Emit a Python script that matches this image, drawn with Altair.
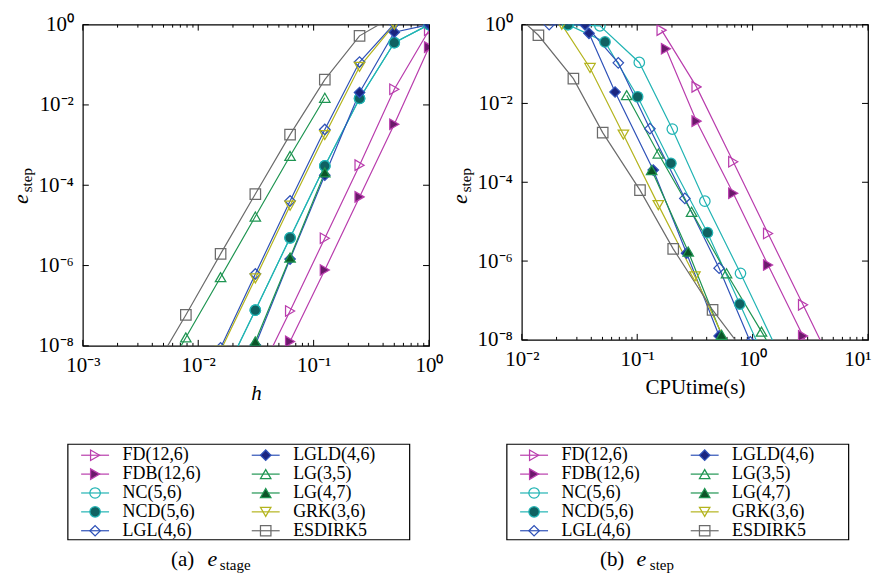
import altair as alt
import pandas as pd

SERIES = ["FD(12,6)", "FDB(12,6)", "NC(5,6)", "NCD(5,6)", "LGL(4,6)",
          "LGLD(4,6)", "LG(3,5)", "LG(4,7)", "GRK(3,6)", "ESDIRK5"]
LINE_COLORS = ["#B93DAD", "#B93DAD", "#22B4B4", "#22B4B4", "#2F52B8",
               "#2F52B8", "#1F9552", "#1F9552", "#B4B41E", "#6B6B6B"]
FILL_COLORS = ["transparent", "#6B1A6B", "transparent", "#0F6262", "transparent",
               "#1A2580", "transparent", "#0C5428", "transparent", "transparent"]
SHAPES = ["triangle-right", "triangle-right", "circle", "circle", "diamond",
          "diamond", "triangle-up", "triangle-up", "triangle-down", "square"]

H = [1, 0.5, 0.25, 0.125, 0.0625, 0.03125, 0.015625, 0.0078125, 0.00390625]

# ---- panel (a): e_stage against h ----
A_X = {
    "FD(12,6)": H[0:6], "FDB(12,6)": H[0:6], "NC(5,6)": H[0:7], "NCD(5,6)": H[0:7],
    "LGL(4,6)": H[0:7], "LGLD(4,6)": H[0:6], "LG(3,5)": H[3:9], "LG(4,7)": H[3:6],
    "GRK(3,6)": H[1:7], "ESDIRK5": H[1:9],
}
A_Y = {
    "FD(12,6)": [0.724, 0.0245, 3.16e-4, 4.79e-6, 7.41e-8, 1.26e-9],
    "FDB(12,6)": [0.275, 3.31e-3, 5.13e-5, 7.76e-7, 1.29e-8, 2.0e-10],
    "NC(5,6)": [1.0, 0.355, 0.0145, 3.02e-4, 4.90e-6, 7.76e-8, 1.26e-9],
    "NCD(5,6)": [1.0, 0.355, 0.0145, 3.02e-4, 4.90e-6, 7.76e-8, 1.26e-9],
    "LGL(4,6)": [1.05, 1.05, 0.117, 2.45e-3, 4.07e-5, 6.17e-7, 8.9e-9],
    "LGLD(4,6)": [1.0, 0.646, 0.0204, 1.78e-4, 1.45e-6, 1.05e-8],
    "LG(3,5)": [0.0151, 5.37e-4, 1.66e-5, 5.13e-7, 1.62e-8, 5.0e-10],
    "LG(4,7)": [2.09e-4, 1.58e-6, 1.29e-8],
    "GRK(3,6)": [1.0, 0.0891, 1.78e-3, 3.09e-5, 4.79e-7, 7.6e-9],
    "ESDIRK5": [1.66, 0.525, 0.0427, 1.82e-3, 6.03e-5, 1.95e-6, 5.89e-8, 2.0e-9],
}

# ---- panel (b): e_step against CPU time (s) ----
B_X = {
    "FD(12,6)": [0.1626, 0.3266, 0.679, 1.361, 2.735, 5.43],
    "FDB(12,6)": [0.1774, 0.3266, 0.679, 1.361, 2.735, 5.50],
    "NC(5,6)": [0.0251, 0.0475, 0.1042, 0.2014, 0.3855, 0.785, 1.66],
    "NCD(5,6)": [0.0251, 0.0526, 0.1009, 0.1959, 0.4064, 0.7745, 1.479],
    "LGL(4,6)": [0.01726, 0.03532, 0.06855, 0.1288, 0.2588, 0.5129, 0.955],
    "LGLD(4,6)": [0.03532, 0.0382, 0.0643, 0.1377, 0.2679, 0.5129],
    "LG(3,5)": [0.0811, 0.1524, 0.2958, 0.5943, 1.194, 2.40],
    "LG(4,7)": [0.1334, 0.2767, 0.5383],
    "GRK(3,6)": [0.0222, 0.0390, 0.0759, 0.1524, 0.3162, 0.603],
    "ESDIRK5": [0.00912, 0.01393, 0.02799, 0.05023, 0.1057, 0.2051, 0.4498, 1.072],
}
B_Y = {
    "FD(12,6)": [0.724, 0.0263, 3.31e-4, 5.01e-6, 7.76e-8, 1.26e-9],
    "FDB(12,6)": [0.245, 3.55e-3, 5.25e-5, 7.94e-7, 1.26e-8, 2.0e-10],
    "NC(5,6)": [1.0, 0.933, 0.1096, 2.24e-3, 3.31e-5, 4.90e-7, 5.01e-9],
    "NCD(5,6)": [1.0, 0.363, 0.01479, 3.02e-4, 5.25e-6, 8.13e-8, 1.26e-9],
    "LGL(4,6)": [1.0, 1.0, 0.1072, 2.29e-3, 3.89e-5, 6.61e-7, 8.91e-9],
    "LGLD(4,6)": [1.0, 0.603, 0.0195, 2.04e-4, 1.585e-6, 1.26e-8],
    "LG(3,5)": [0.0162, 5.37e-4, 1.78e-5, 4.90e-7, 1.62e-8, 5.0e-10],
    "LG(4,7)": [2.04e-4, 1.74e-6, 1.35e-8],
    "GRK(3,6)": [1.0, 0.0794, 1.62e-3, 2.63e-5, 4.07e-7, 7.08e-9],
    "ESDIRK5": [1.66, 0.537, 0.0427, 1.82e-3, 6.31e-5, 2.04e-6, 5.75e-8, 2.0e-9],
}

LEG_COL = [0, 0, 0, 0, 0, 1, 1, 1, 1, 1]
LEG_ROW = [0, 1, 2, 3, 4, 0, 1, 2, 3, 4]

FONT = "Liberation Serif"
EXPO = "round(log(datum.value)/LN10)"
SUP = "['⁻⁸','⁻⁷','⁻⁶','⁻⁵','⁻⁴','⁻³','⁻²','⁻¹','⁰','¹','²']"
LABEL_EXPR = f"'10' + {SUP}[{EXPO}+8]"

Y_TICKS = [1e-8, 1e-6, 1e-4, 1e-2, 1]
MINOR_MULT = [2, 3, 4, 5, 6, 7, 8, 9]


def frame(d):
    rows = []
    for i, s in enumerate(SERIES):
        for x, y in zip(d[0][s], d[1][s]):
            rows.append({"series": s, "idx": i, "x": x, "y": y})
    return pd.DataFrame(rows)


color_s = alt.Scale(domain=SERIES, range=LINE_COLORS)
fill_s = alt.Scale(domain=SERIES, range=FILL_COLORS)
shape_s = alt.Scale(domain=SERIES, range=SHAPES)

CAP_Y = 542.8
SUB_Y = 546.5
W = 347
MSIZE = 110


def panel(df, xlo, xhi, height, xtitle, xitalic, cap_lbl, cap_sub, cap_x,
          anchor_x, last_flush, cond_ok):
    xs = alt.Scale(type="log", domain=[10.0 ** xlo, 10.0 ** xhi], nice=False)
    ys = alt.Scale(type="log", domain=[1e-8, 1], nice=False)
    majors = [10.0 ** k for k in range(xlo, xhi + 1)]
    minors = [m * 10.0 ** k for k in range(xlo, xhi) for m in MINOR_MULT]

    extra = {}
    if last_flush and cond_ok:
        extra = dict(
            labelAlign={"condition": {"test": f"datum.value > {10.0 ** xhi * 0.5}",
                                      "value": "right"}, "value": "center"},
            labelOffset={"condition": {"test": f"datum.value > {10.0 ** xhi * 0.5}",
                                       "value": 3}, "value": 0},
        )
    common = dict(grid=False, domain=False, ticks=False,
                  labelFont=FONT, labelFontSize=21, labelColor="black",
                  labelFlush=False, labelOverlap=False)
    ax_b = alt.Axis(orient="bottom", values=majors, labelExpr=LABEL_EXPR,
                    labelPadding=9, title=xtitle, titleFont=FONT, titleFontSize=21,
                    titleFontWeight="normal", titleColor="black",
                    titleFontStyle="italic" if xitalic else "normal", titlePadding=7,
                    **common, **extra)
    ax_l = alt.Axis(orient="left", values=Y_TICKS, labelExpr=LABEL_EXPR,
                    labelPadding=9.5, title=None, **common)
    base = alt.Chart(df)
    axes = base.mark_point(opacity=0, clip=True).encode(
        x=alt.X("x:Q", scale=xs, axis=ax_b),
        y=alt.Y("y:Q", scale=ys, axis=ax_l),
    )
    xn = alt.X("x:Q", scale=xs, axis=None)
    yn = alt.Y("y:Q", scale=ys, axis=None)

    # inward tick marks on all four sides (MATLAB style box)
    tk = []
    for vals, ln in ((majors, 6), (minors, 3)):
        tdf = alt.Chart(pd.DataFrame({"v": vals}))
        tx = alt.X("v:Q", scale=xs, axis=None)
        tk.append(tdf.mark_rule(color="black", strokeWidth=1).encode(
            x=tx, y=alt.value(height), y2=alt.value(height - ln)))
        tk.append(tdf.mark_rule(color="black", strokeWidth=1).encode(
            x=tx, y=alt.value(0), y2=alt.value(ln)))
    ydf = alt.Chart(pd.DataFrame({"v": Y_TICKS}))
    ty = alt.Y("v:Q", scale=ys, axis=None)
    tk.append(ydf.mark_rule(color="black", strokeWidth=1).encode(
        y=ty, x=alt.value(0), x2=alt.value(6)))
    tk.append(ydf.mark_rule(color="black", strokeWidth=1).encode(
        y=ty, x=alt.value(W), x2=alt.value(W - 6)))

    lines = base.mark_line(clip=True, strokeWidth=1.2).encode(
        x=xn, y=yn,
        color=alt.Color("series:N", scale=color_s, legend=None),
        detail="series:N",
    )
    pts = base.mark_point(clip=True, filled=True, size=MSIZE, strokeWidth=1.25, opacity=1).encode(
        x=xn, y=yn,
        shape=alt.Shape("series:N", scale=shape_s, legend=None),
        fill=alt.Fill("series:N", scale=fill_s, legend=None),
        stroke=alt.Stroke("series:N", scale=color_s, legend=None),
        order="idx:Q",
    )

    leg_df = pd.DataFrame({"series": SERIES, "col": LEG_COL, "row": LEG_ROW})
    lx = alt.X("col:Q", scale=alt.Scale(domain=[0, 1], range=[12.3, 183.3]), axis=None)
    ly = alt.Y("row:Q", scale=alt.Scale(domain=[0, 4], range=[431.6, 507.3]), axis=None)
    lbase = alt.Chart(leg_df)
    one = alt.Chart(pd.DataFrame({"k": [0]}))
    box = one.mark_rect(fill="white", stroke="black", strokeWidth=1.2).encode(
        x=alt.value(-15), x2=alt.value(327.6), y=alt.value(420.6), y2=alt.value(516.3))
    lline = lbase.mark_point(shape="stroke", size=784, strokeWidth=1.2, opacity=1).encode(
        x=lx, y=ly, stroke=alt.Stroke("series:N", scale=color_s, legend=None))
    lmark = lbase.mark_point(filled=True, size=MSIZE, strokeWidth=1.25, opacity=1).encode(
        x=lx, y=ly,
        shape=alt.Shape("series:N", scale=shape_s, legend=None),
        fill=alt.Fill("series:N", scale=fill_s, legend=None),
        stroke=alt.Stroke("series:N", scale=color_s, legend=None),
    )
    ltext = lbase.mark_text(align="left", baseline="middle", dx=27.5, font=FONT,
                            fontSize=18, color="black").encode(x=lx, y=ly, text="series:N")

    cap1 = one.mark_text(align="left", baseline="alphabetic", font=FONT, fontSize=21,
                         color="black", text=cap_lbl).encode(
        x=alt.value(cap_x[0]), y=alt.value(CAP_Y))
    cap2 = one.mark_text(align="left", baseline="alphabetic", font=FONT, fontSize=22,
                         fontStyle="italic", color="black", text="e").encode(
        x=alt.value(cap_x[1]), y=alt.value(CAP_Y))
    cap3 = one.mark_text(align="left", baseline="alphabetic", font=FONT, fontSize=15,
                         color="black", text=cap_sub).encode(
        x=alt.value(cap_x[2]), y=alt.value(SUB_Y))
    yt1 = one.mark_text(align="center", baseline="alphabetic", font=FONT, fontSize=22,
                        fontStyle="italic", color="black", text="e", angle=270).encode(
        x=alt.value(-55), y=alt.value(175))
    yt2 = one.mark_text(align="left", baseline="alphabetic", font=FONT, fontSize=15,
                        color="black", text="step", angle=270).encode(
        x=alt.value(-51), y=alt.value(168))
    # invisible layout anchors fixing the page extents
    anc = one.mark_rect(opacity=0).encode(
        x=alt.value(anchor_x), x2=alt.value(anchor_x + 0.3),
        y=alt.value(-14.7), y2=alt.value(550.3))

    return alt.layer(anc, axes, *tk, lines, pts, box, lline, lmark, ltext,
                     cap1, cap2, cap3, yt1, yt2
                     ).resolve_scale(x="independent", y="independent").properties(
        width=W, height=height)


def build(cond_ok):
    left = panel(frame((A_X, A_Y)), -3, 0, 322, "h", True, "(a)", "stage",
                 [88.3, 125, 137.3], -73.7, False, cond_ok)
    right = panel(frame((B_X, B_Y)), -2, 1, 316, "CPUtime(s)", False, "(b)", "step",
                  [78.3, 115, 128.3], 350.0, True, cond_ok)
    ch = alt.hconcat(left, right, spacing=93, bounds="flush").properties(padding=0)
    return ch.configure_view(stroke="black", strokeWidth=1.2)


for cond_ok in (True, False):
    try:
        chart = build(cond_ok)
        chart.save("out.html", embed_options={"renderer": "svg", "actions": False})
        print("cond", cond_ok)
        break
    except Exception as exc:
        print("fallback:", type(exc).__name__, str(exc)[:300])
